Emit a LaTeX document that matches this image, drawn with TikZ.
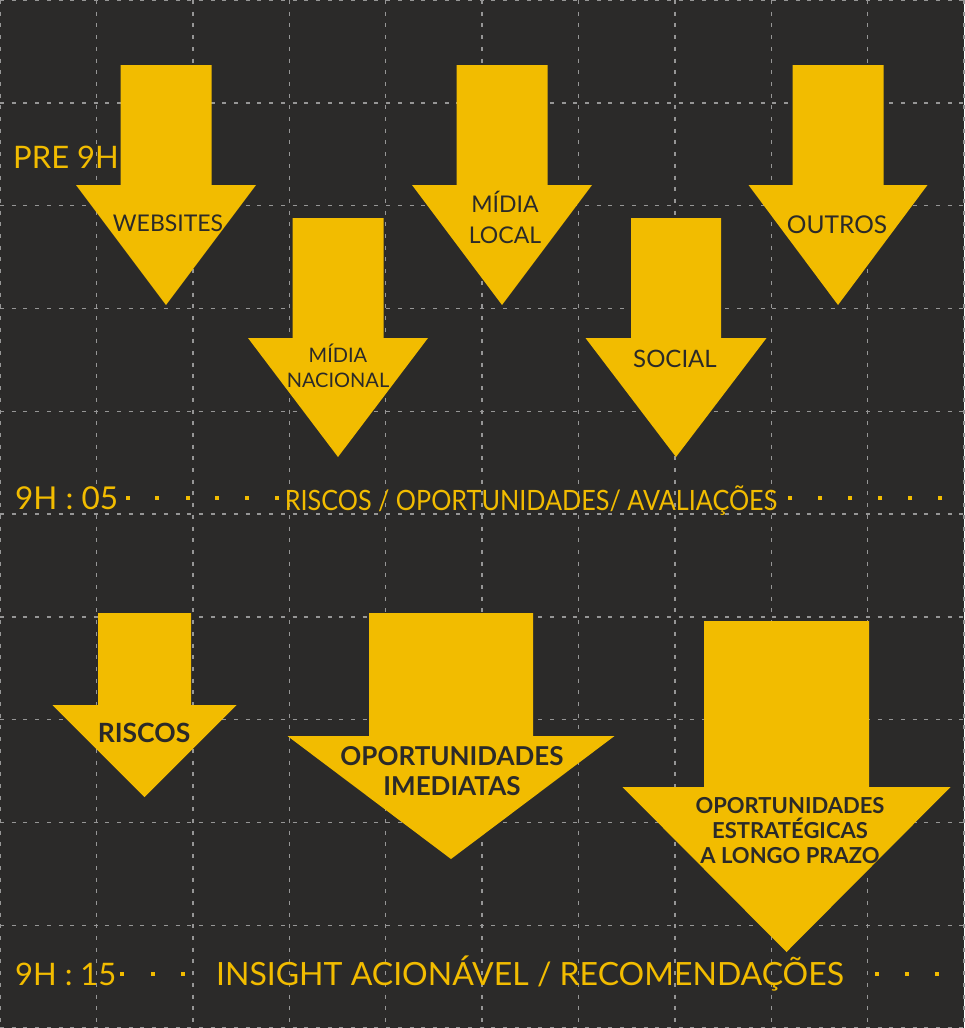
\documentclass[tikz,border=0pt]{standalone}
\usepackage{fontspec}
\setmainfont{Lato}
\usepackage{tikz}
\usepackage{graphicx}
\usepackage{xcolor}

\definecolor{fundo}{RGB}{43,42,41}
\definecolor{amarelo}{RGB}{242,188,0}
\definecolor{grade}{RGB}{150,150,150}

% seta para baixo: nome, centro x, topo, meia haste, base da ponta, meia ponta, bico
\newcommand{\seta}[7]{%
  \fill[amarelo] (#2-#4,#3) -- (#2+#4,#3) -- (#2+#4,#5) -- (#2+#6,#5)
    -- (#2,#7) -- (#2-#6,#5) -- (#2-#4,#5) -- cycle;
  \coordinate (#1) at (#2,#7);}

\begin{document}
\begin{tikzpicture}[x=1pt,y=-1pt,
  grid line/.style={grade, line width=1.4pt, dash pattern=on 4pt off 7.7pt},
  arrow text/.style={text=fundo, inner sep=0pt, anchor=base, align=center},
  time text/.style={text=amarelo, inner sep=0pt, anchor=base west},
  dot/.style={amarelo}]
  \useasboundingbox (0,0) rectangle (964,1028);
  \fill[fundo] (0,0) rectangle (964,1028);
  % grade
  \foreach \i in {0,...,10} {
    \draw[grid line] (\i*96.4,0) -- (\i*96.4,1028);
    \draw[grid line] (0,\i*102.8) -- (964,\i*102.8);
  }
  % setas de cima
  \seta{websitesTip}{166}{65}{45.5}{185}{90}{305}
  \seta{nacionalTip}{338}{218}{45.5}{338}{90}{457}
  \seta{localTip}{502}{65}{45.5}{185}{90}{305}
  \seta{socialTip}{676}{218}{45}{338}{90.5}{457}
  \seta{outrosTip}{838}{65}{45.5}{185}{89.5}{305}
  \node[arrow text, font=\fontsize{23}{30}\selectfont] (websites) at (168,231) {WEBSITES};
  \node[arrow text, font=\fontsize{20}{25}\selectfont] (nacional) at (338,387) {MÍDIA\\NACIONAL};
  \node[arrow text, font=\fontsize{23}{31}\selectfont] (local) at (505,243) {MÍDIA\\LOCAL};
  \node[arrow text, font=\fontsize{24}{30}\selectfont] (social) at (675,367) {SOCIAL};
  \node[arrow text, font=\fontsize{24.5}{30}\selectfont] (outros) at (837,233) {OUTROS};
  % setas de baixo
  \seta{riscosTip}{144.5}{613}{46.5}{705}{92}{797}
  \seta{imediatasTip}{451}{613}{82}{736}{163.5}{859}
  \seta{estrategicasTip}{786.5}{621}{82.5}{787}{164}{952}
  \node[arrow text, font=\bfseries\fontsize{26.5}{30}\selectfont] (riscos) at (144,742) {RISCOS};
  \node[arrow text, font=\bfseries\fontsize{26}{30}\selectfont] (imediatas) at (452,795) {OPORTUNIDADES\\IMEDIATAS};
  \node[arrow text, font=\bfseries\fontsize{22}{25}\selectfont] (estrategicas) at (790,863) {OPORTUNIDADES\\ESTRATÉGICAS\\A LONGO PRAZO};
  % horarios
  \node[time text, font=\fontsize{31}{36}\selectfont] (pre) at (13,168) {PRE 9H};
  \node[time text, font=\fontsize{31.5}{36}\selectfont] (nove05) at (15,509) {9H : 05};
  \node[text=amarelo, inner sep=0pt, anchor=base, font=\fontsize{28}{32}\selectfont] (riscosOp) at (531,510) {\scalebox{0.9}[1]{RISCOS / OPORTUNIDADES/ AVALIAÇÕES}};
  \node[time text, font=\fontsize{31}{36}\selectfont] (nove15) at (15,985) {9H : 15};
  \node[text=amarelo, inner sep=0pt, anchor=base, font=\fontsize{32}{36}\selectfont] (insight) at (530,985) {INSIGHT ACIONÁVEL / RECOMENDAÇÕES};
  % pontinhos
  \foreach \x in {128,157,188,217,247,277,790,820,850,880,910,940}
    \fill[dot] (\x-2,496) rectangle (\x+2,500);
  \foreach \x in {122,153,183,877,907,937}
    \fill[dot] (\x-1.7,972) rectangle (\x+1.7,975.5);
\end{tikzpicture}
\end{document}
